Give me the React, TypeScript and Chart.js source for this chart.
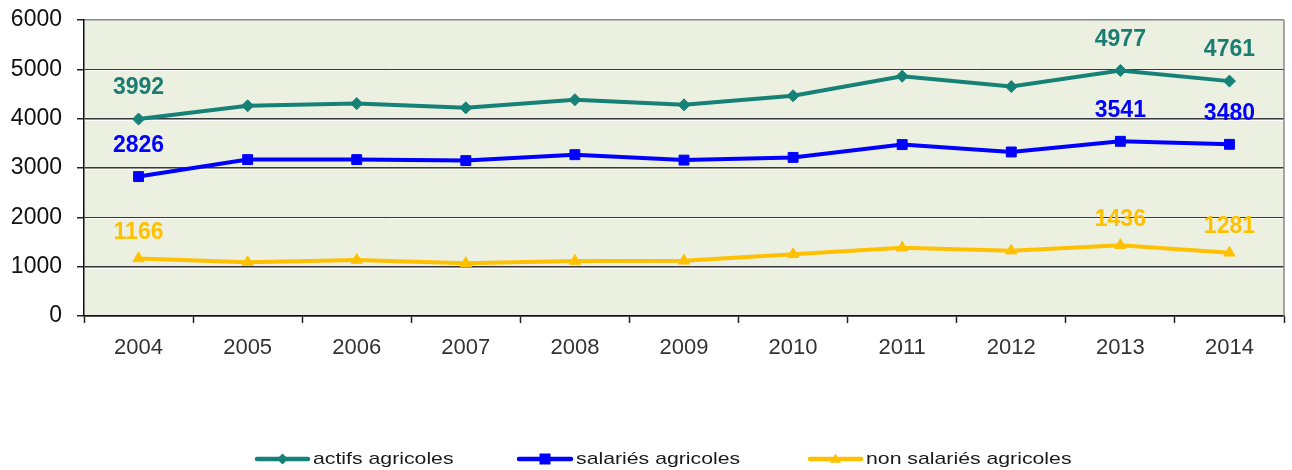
import React, { useEffect, useRef } from 'react';
import { Chart, registerables } from 'chart.js';

Chart.register(...registerables);

const years = ['2004', '2005', '2006', '2007', '2008', '2009', '2010', '2011', '2012', '2013', '2014'];
const actifsAgricoles = [3992, 4260, 4305, 4220, 4385, 4280, 4465, 4860, 4650, 4977, 4761];
const salariesAgricoles = [2826, 3170, 3170, 3150, 3270, 3160, 3215, 3475, 3325, 3541, 3480];
const nonSalariesAgricoles = [1166, 1090, 1135, 1070, 1115, 1120, 1250, 1385, 1325, 1436, 1281];
const seriesNames = ['actifs agricoles', 'salariés agricoles', 'non salariés agricoles'];
const labelledIndices = [0, 9, 10];
const yMin = 0;
const yMax = 6000;
const yStep = 1000;

const TEAL = '#168177';
const TEAL_LABEL = '#1B7C72';
const BLUE = '#0000FF';
const YELLOW = '#FFC000';
const COLORS = [TEAL, BLUE, YELLOW];
const LABEL_COLORS = [TEAL_LABEL, BLUE, YELLOW];
const LABEL_OFFSETS = [31, 31, 26];
const STYLES = ['rectRot', 'rect', 'triangle'];

function drawMarker(ctx: CanvasRenderingContext2D, style: string, x: number, y: number, r: number, color: string) {
  ctx.save();
  ctx.fillStyle = color;
  ctx.beginPath();
  if (style === 'rectRot') {
    ctx.moveTo(x, y - r);
    ctx.lineTo(x + r, y);
    ctx.lineTo(x, y + r);
    ctx.lineTo(x - r, y);
  } else if (style === 'rect') {
    ctx.rect(x - r, y - r, 2 * r, 2 * r);
  } else {
    ctx.moveTo(x, y - r);
    ctx.lineTo(x + r, y + r * 0.7);
    ctx.lineTo(x - r, y + r * 0.7);
  }
  ctx.closePath();
  ctx.fill();
  ctx.restore();
}

const decorPlugin = {
  id: 'decor',
  beforeDraw(chart: any) {
    const { ctx, chartArea: a } = chart;
    ctx.save();
    ctx.fillStyle = '#EBF0E1';
    ctx.fillRect(a.left, a.top, a.right - a.left, a.bottom - a.top);
    ctx.restore();
  },
  beforeDatasetsDraw(chart: any) {
    const { ctx, chartArea: a } = chart;
    const ys = chart.scales.y;
    ctx.save();
    ctx.strokeStyle = 'rgba(255,255,255,0.95)';
    ctx.lineWidth = 1;
    for (let v = yMin + yStep; v < yMax; v += yStep) {
      const py = Math.round(ys.getPixelForValue(v)) + 1.5;
      ctx.beginPath();
      ctx.moveTo(a.left + 1, py);
      ctx.lineTo(a.right - 1, py);
      ctx.stroke();
    }
    ctx.strokeStyle = '#8a8a8a';
    ctx.lineWidth = 1.5;
    ctx.beginPath();
    ctx.moveTo(a.right, a.top);
    ctx.lineTo(a.right, a.bottom);
    ctx.stroke();
    ctx.restore();
  },
  afterDatasetsDraw(chart: any) {
    const { ctx } = chart;
    ctx.save();
    ctx.font = 'bold 23px "Liberation Sans", Arial, sans-serif';
    ctx.textAlign = 'center';
    ctx.textBaseline = 'middle';
    chart.data.datasets.forEach((ds: any, i: number) => {
      const meta = chart.getDatasetMeta(i);
      ctx.fillStyle = LABEL_COLORS[i];
      labelledIndices.forEach((idx) => {
        const el = meta.data[idx];
        if (!el) return;
        ctx.fillText(String(ds.data[idx]), el.x, el.y - LABEL_OFFSETS[i]);
      });
    });
    ctx.restore();
  },
  afterDraw(chart: any) {
    const { ctx } = chart;
    const cy = 459;
    const items = [
      { x0: 255, x1: 310, tx: 313 },
      { x0: 517, x1: 573, tx: 576 },
      { x0: 808, x1: 863, tx: 866 },
    ];
    ctx.save();
    items.forEach((it, i) => {
      ctx.strokeStyle = COLORS[i];
      ctx.lineWidth = 4.5;
      ctx.lineCap = 'round';
      ctx.beginPath();
      ctx.moveTo(it.x0 + 2, cy);
      ctx.lineTo(it.x1 - 2, cy);
      ctx.stroke();
      const mx = (it.x0 + it.x1) / 2;
      drawMarker(ctx, STYLES[i], mx, cy, 5.5, COLORS[i]);
      ctx.save();
      ctx.translate(it.tx, cy);
      ctx.scale(1.25, 1);
      ctx.fillStyle = '#1a1a1a';
      ctx.font = '17px "Liberation Sans", Arial, sans-serif';
      ctx.textAlign = 'left';
      ctx.textBaseline = 'middle';
      ctx.fillText(seriesNames[i], 0, 0);
      ctx.restore();
    });
    ctx.restore();
  },
};

export default function App() {
  const canvasRef = useRef<HTMLCanvasElement | null>(null);

  useEffect(() => {
    document.body.style.margin = '0';
    const canvas = canvasRef.current;
    if (!canvas) return;
    const series = [actifsAgricoles, salariesAgricoles, nonSalariesAgricoles];
    const chart = new Chart(canvas, {
      type: 'line',
      data: {
        labels: years,
        datasets: series.map((d, i) => ({
          label: seriesNames[i],
          data: d,
          borderColor: COLORS[i],
          backgroundColor: COLORS[i],
          borderWidth: 4,
          pointStyle: STYLES[i] as any,
          pointRadius: i === 1 ? 7 : i === 0 ? 6 : 6.5,
          pointBorderWidth: 1,
          pointBackgroundColor: COLORS[i],
          pointBorderColor: COLORS[i],
          tension: 0,
          fill: false,
        })),
      },
      options: {
        responsive: false,
        animation: false,
        layout: { padding: { top: 20, right: 7, bottom: 104, left: 0 } },
        plugins: {
          legend: { display: false },
          tooltip: { enabled: false },
        },
        scales: {
          x: {
            type: 'category',
            offset: true,
            grid: {
              offset: true,
              drawOnChartArea: false,
              drawTicks: true,
              tickLength: 7,
              tickColor: '#222',
              tickWidth: 1.5,
            },
            border: { color: '#111', width: 1.5 },
            ticks: {
              color: '#333',
              font: { family: '"Liberation Sans", Arial, sans-serif', size: 22 },
              padding: 12,
              maxRotation: 0,
              autoSkip: false,
            },
            afterFit(scale: any) {
              scale.height = 50;
              scale.paddingLeft = 0;
              scale.paddingRight = 0;
            },
          },
          y: {
            min: yMin,
            max: yMax,
            grid: {
              color: (c: any) => (c.tick && c.tick.value === yMax ? '#8a8a8a' : '#3a3a3a'),
              lineWidth: 1.5,
              drawTicks: true,
              tickLength: 7,
              tickColor: '#222',
              tickWidth: 1.5,
            },
            border: { color: '#111', width: 1.5 },
            ticks: {
              stepSize: yStep,
              color: '#111',
              font: { family: '"Liberation Sans", Arial, sans-serif', size: 23 },
              padding: 15,
              callback: (v: any) => String(v),
            },
            afterFit(scale: any) {
              scale.width = 84;
              scale.paddingTop = 0;
              scale.paddingBottom = 0;
            },
          },
        },
      },
      plugins: [decorPlugin],
    });
    return () => chart.destroy();
  }, []);

  return (
    <div style={{ position: 'relative', width: 1292, height: 470 }}>
      <canvas ref={canvasRef} width={1292} height={470} />
    </div>
  );
}
